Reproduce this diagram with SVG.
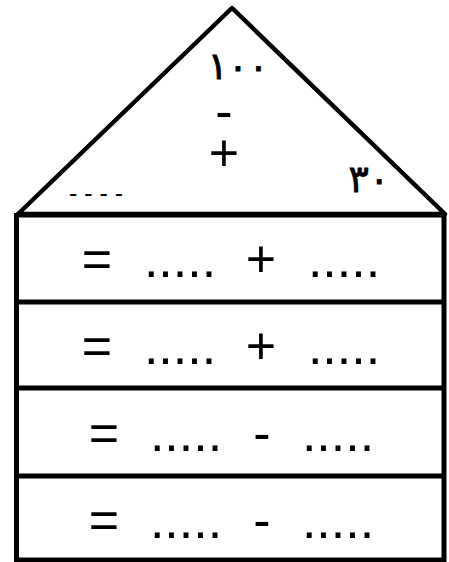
<svg xmlns="http://www.w3.org/2000/svg" width="449" height="562" viewBox="0 0 449 562">
<style>
.ln{fill:none;stroke:#000;stroke-width:5}
.tri{fill:#fff;stroke:#000;stroke-width:4.5;stroke-linejoin:round}
.t{font-family:"Liberation Sans",Arial,sans-serif;font-size:52px;fill:#000}
.ar{font-family:"DejaVu Sans",sans-serif;font-size:38px;letter-spacing:6px;fill:#000;stroke:#000;stroke-width:0.8}
.sm{font-family:"Liberation Sans",Arial,sans-serif;font-size:25px;fill:#000}
</style>
<rect width="449" height="562" fill="#fff"/>
<g id="roof">
<polygon class="tri" points="232,8 18,214 445,214"/>
<text class="ar" x="238" y="79" text-anchor="middle">١٠٠</text>
<text class="t" x="224" y="129" text-anchor="middle">-</text>
<text class="t" x="224" y="171" text-anchor="middle">+</text>
<text class="ar" x="369" y="192" text-anchor="middle">٣٠</text>
<text class="sm" x="96" y="202" text-anchor="middle">- - - -</text>
</g>
<g id="walls">
<line class="ln" x1="16.5" y1="213" x2="16.5" y2="562"/>
<line class="ln" x1="444" y1="213" x2="444" y2="562"/>
<line class="ln" x1="16" y1="215" x2="446" y2="215"/>
</g>
<g id="row1">
<text class="t" x="97" y="277" text-anchor="middle">=</text>
<text class="t" x="180" y="277" text-anchor="middle">.....</text>
<text class="t" x="261" y="277" text-anchor="middle">+</text>
<text class="t" x="344" y="277" text-anchor="middle">.....</text>
<line class="ln" x1="16" y1="302" x2="446" y2="302"/>
</g>
<g id="row2">
<text class="t" x="97" y="364" text-anchor="middle">=</text>
<text class="t" x="180" y="364" text-anchor="middle">.....</text>
<text class="t" x="261" y="364" text-anchor="middle">+</text>
<text class="t" x="344" y="364" text-anchor="middle">.....</text>
<line class="ln" x1="16" y1="388" x2="446" y2="388"/>
</g>
<g id="row3">
<text class="t" x="104" y="451" text-anchor="middle">=</text>
<text class="t" x="186" y="451" text-anchor="middle">.....</text>
<text class="t" x="262" y="451" text-anchor="middle">-</text>
<text class="t" x="338" y="451" text-anchor="middle">.....</text>
<line class="ln" x1="16" y1="476" x2="446" y2="476"/>
</g>
<g id="row4">
<text class="t" x="104" y="538" text-anchor="middle">=</text>
<text class="t" x="186" y="538" text-anchor="middle">.....</text>
<text class="t" x="262" y="538" text-anchor="middle">-</text>
<text class="t" x="338" y="538" text-anchor="middle">.....</text>
<line class="ln" x1="16" y1="560" x2="446" y2="560"/>
</g>
</svg>
